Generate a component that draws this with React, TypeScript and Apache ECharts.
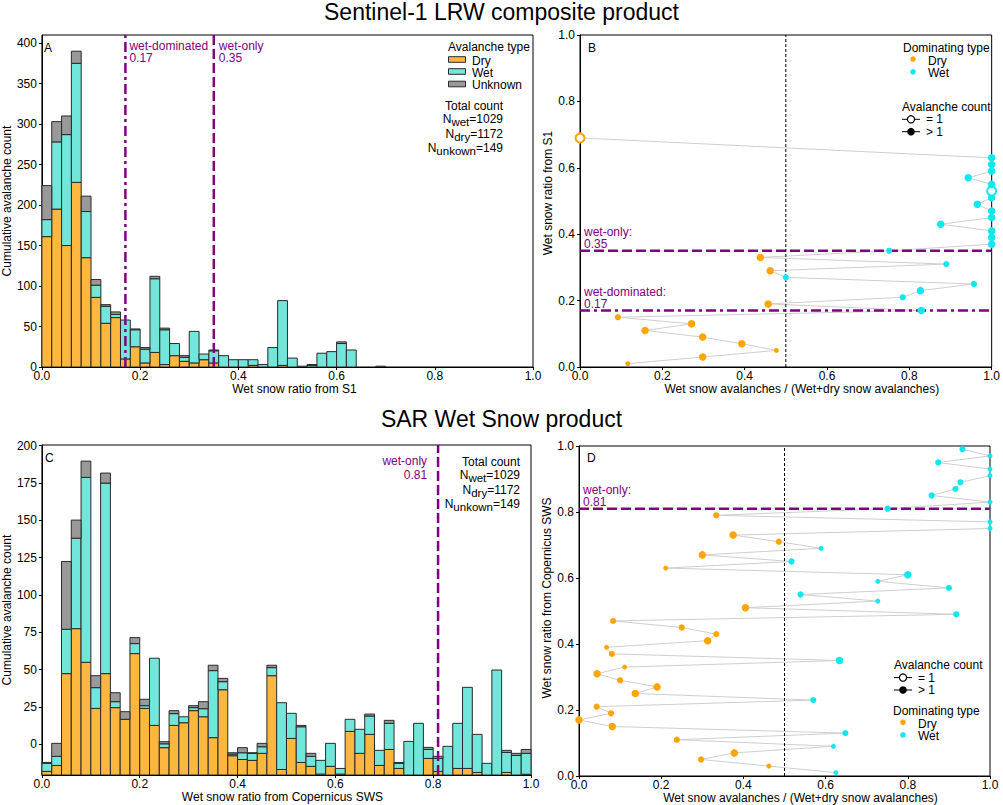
import React, { useEffect, useRef } from 'react';
import * as echarts from 'echarts';

const FONT = '"Liberation Sans", Arial, sans-serif';
const BIN_WIDTH = 0.02;

// ---------- Panel A: Sentinel-1 LRW histogram (counts per 0.02 bin) ----------
const s1Dry = [161, 195, 150, 228, 135, 86, 54, 61, 10, 25, 5, 18, 3, 14, 7, 5, 9, 5, 0, 0, 0, 2, 0, 0, 2, 0, 0, 0, 0, 0, 0, 0, 0, 0, 1, 0, 0, 0, 0, 0, 0, 0, 0, 0, 0, 0, 0, 0, 0, 0];
const s1Wet = [21, 83, 137, 147, 57, 15, 21, 4, 48, 21, 17, 91, 43, 15, 5, 39, 7, 15, 14, 9, 9, 7, 3, 24, 80, 11, 1, 2, 17, 19, 29, 21, 0, 0, 0, 0, 0, 0, 0, 0, 0, 0, 0, 0, 0, 0, 0, 0, 0, 0];
const s1Unknown = [42, 25, 23, 15, 19, 7, 2, 3, 0, 1, 2, 3, 2, 0, 2, 0, 0, 1, 0, 0, 0, 0, 0, 0, 0, 0, 0, 1, 0, 0, 2, 0, 0, 0, 0, 0, 0, 0, 0, 0, 0, 0, 0, 0, 0, 0, 0, 0, 0, 0];
const S1_Y_RANGE = [0, 410];
const S1_Y_TICKS = [0, 50, 100, 150, 200, 250, 300, 350, 400];

// ---------- Panel C: SAR Wet Snow histogram (bars start at the axis bottom) ----------
const SAR_BASE = -20.5;
const sarDry = [2.4, 6.4, 67.9, 98.0, 75.5, 44.6, 67.9, 45.1, 37.3, 81.3, 44.6, 33.2, 18.3, 33.2, 35.0, 43.1, 39.0, 25.0, 57.1, 12.9, 10.4, 9.8, 14.5, 66.5, 3.7, 24.5, 8.4, 5.8, 0.6, 5.8, 0.6, 29.2, 14.5, 27.2, 6.4, 17.1, 4.4, 0, 0, 11.1, 2.4, 0, 4.4, 4.4, 1.7, 0, 0, 1.7, 0, 0.5];
const sarWet = [5.4, 6.1, 29.7, 60.6, 123.8, 13.9, 127.6, 4.0, 0, 6.7, 1.8, 45.0, 2.6, 7.9, 4.0, 2.0, 5.4, 44.9, 5.4, 1.1, 4.5, 4.7, 4.4, 5.4, 44.7, 16.8, 23.9, 6.7, 9.2, 15.4, 3.8, 8.1, 16.1, 12.3, 10.1, 17.5, 3.4, 22.5, 34.6, 6.0, 8.7, 19.2, 30.2, 54.3, 25.5, 7.8, 70.3, 13.4, 13.1, 14.0];
const sarUnknown = [0.6, 8.7, 45.4, 12.1, 10.9, 8.0, 6.7, 6.0, 5.1, 4.0, 4.3, 0, 1.4, 2.0, 0, 1.3, 4.7, 3.6, 2.2, 0.9, 3.4, 0.4, 2.3, 1.6, 0, 0, 0.9, 2.0, 0, 0, 0, 0, 0, 1.3, 0, 2.0, 0.6, 0, 0, 1.4, 1.4, 0, 0, 0, 0, 0, 0, 1.4, 1.4, 2.6];
const SAR_Y_RANGE = [SAR_BASE, 200.5];
const SAR_Y_TICKS = [0, 25, 50, 75, 100, 125, 150, 175, 200];

// ---------- Panel B: dominating type per S1 ratio bin ----------
const s1RatioBins = [0.01, 0.03, 0.05, 0.07, 0.09, 0.11, 0.13, 0.15, 0.17, 0.19, 0.21, 0.23, 0.25, 0.27, 0.29, 0.31, 0.33, 0.35, 0.37, 0.39, 0.41, 0.43, 0.45, 0.47, 0.49, 0.51, 0.53, 0.55, 0.57, 0.59, 0.61, 0.63, 0.69];
const s1WetShare = [0.116, 0.298, 0.477, 0.393, 0.298, 0.158, 0.271, 0.092, 0.829, 0.457, 0.784, 0.827, 0.957, 0.5, 0.462, 0.89, 0.438, 0.751, 1, 1, 1, 0.876, 1, 1, 0.965, 1, 1, 1, 0.943, 1, 1, 1, 0];
const s1MarkerClass = [1, 3, 1, 3, 3, 3, 3, 2, 3, 3, 2, 3, 2, 2, 3, 2, 3, 2, 3, 3, 3, 3, 3, 3, 3, 3, 3, 3, 3, 3, 3, 3, 3];
const s1SingleAvalancheBins = [0.53, 0.69];

// ---------- Panel D: dominating type per SAR ratio bin ----------
const sarRatioBins = [0.01, 0.03, 0.05, 0.07, 0.09, 0.11, 0.13, 0.15, 0.17, 0.19, 0.21, 0.23, 0.25, 0.27, 0.29, 0.31, 0.33, 0.35, 0.37, 0.39, 0.41, 0.43, 0.45, 0.47, 0.49, 0.51, 0.53, 0.55, 0.57, 0.59, 0.61, 0.63, 0.65, 0.67, 0.69, 0.71, 0.73, 0.75, 0.77, 0.79, 0.81, 0.83, 0.85, 0.87, 0.89, 0.91, 0.93, 0.95, 0.97, 0.99];
const sarWetShare = [0.625, 0.462, 0.297, 0.378, 0.619, 0.238, 0.648, 0.081, 0, 0.078, 0.043, 0.570, 0.137, 0.190, 0.100, 0.044, 0.111, 0.634, 0.080, 0.067, 0.313, 0.334, 0.25, 0.083, 0.918, 0.405, 0.727, 0.539, 0.900, 0.727, 0.8, 0.211, 0.517, 0.300, 0.589, 0.486, 0.375, 1, 1, 0.334, 0.751, 1, 0.858, 0.916, 0.928, 1, 1, 0.874, 1, 0.933];
const sarMarkerClass = [1, 1, 2, 3, 1, 2, 2, 3, 3, 2, 2, 2, 3, 3, 2, 3, 1, 3, 2, 1, 3, 2, 2, 2, 2, 3, 1, 2, 2, 1, 3, 1, 2, 3, 1, 2, 3, 1, 1, 2, 2, 1, 2, 2, 2, 1, 1, 2, 1, 2];
const sarSingleAvalancheBins: number[] = [];

// ---------- thresholds & totals ----------
const S1_WET_DOMINATED = 0.17;
const S1_WET_ONLY = 0.35;
const SAR_WET_ONLY = 0.81;
const TOTAL_WET = 1029;
const TOTAL_DRY = 1172;
const TOTAL_UNKNOWN = 149;
const X_TICKS_STEP = 0.2;

// ---------- styles ----------
const BAR_DRY = '#FDB73E';
const BAR_WET = '#72E6DA';
const BAR_UNK = '#999999';
const BAR_EDGE = '#2a2a2a';
const PT_DRY = '#FFA500';
const PT_WET = '#14E6F0';
const PURPLE = '#800080';
const MARKER_SIZE: Record<number, number> = { 1: 5, 2: 6.2, 3: 7.5 };
const DASH = [10, 4];
const DASH_DOT = [10, 4, 3, 4];

const GRIDS = [
  { left: 37, top: 35, width: 496, height: 332 },
  { left: 580, top: 35, width: 413, height: 332 },
  { left: 37, top: 445, width: 494, height: 330 },
  { left: 579, top: 446, width: 411, height: 330 },
];

function stackBins(types: number[][], base: number) {
  const out: number[][][] = types.map(() => []);
  for (let i = 0; i < types[0].length; i++) {
    let bottom = base;
    types.forEach((arr, t) => {
      const top = bottom + arr[i];
      if (arr[i] > 0) out[t].push([i * BIN_WIDTH, (i + 1) * BIN_WIDTH, bottom, top]);
      bottom = top;
    });
  }
  return out;
}

function histSeries(name: string, color: string, data: number[][], idx: number) {
  return {
    type: 'custom',
    name,
    xAxisIndex: idx,
    yAxisIndex: idx,
    data,
    encode: { x: [0, 1], y: [2, 3] },
    clip: true,
    renderItem: (_p: any, api: any) => {
      const a = api.coord([api.value(0), api.value(3)]);
      const b = api.coord([api.value(1), api.value(2)]);
      return {
        type: 'rect',
        shape: { x: a[0], y: a[1], width: b[0] - a[0], height: b[1] - a[1] },
        style: { fill: color, stroke: BAR_EDGE, lineWidth: 1 },
      };
    },
  };
}

function refLine(idx: number, pts: number[][], type: any, color = PURPLE, width = 2.5) {
  return {
    type: 'line',
    xAxisIndex: idx,
    yAxisIndex: idx,
    data: pts,
    showSymbol: false,
    symbol: 'none',
    silent: true,
    z: 5,
    lineStyle: { color, width, type },
  };
}

function pointSeries(idx: number, bins: number[], shares: number[], classes: number[], singles: number[], wantWet: boolean) {
  const color = wantWet ? PT_WET : PT_DRY;
  const data: any[] = [];
  bins.forEach((y, i) => {
    const wet = shares[i] >= 0.5;
    if (wet !== wantWet) return;
    const single = singles.includes(y);
    data.push({
      value: [shares[i], y],
      symbol: single ? 'emptyCircle' : 'circle',
      symbolSize: single ? 9 : MARKER_SIZE[classes[i]],
      itemStyle: single ? { borderWidth: 2, borderColor: color, color } : { color },
    });
  });
  return {
    type: 'scatter',
    name: wantWet ? 'Wet' : 'Dry',
    xAxisIndex: idx,
    yAxisIndex: idx,
    data,
    z: 10,
    itemStyle: { color, opacity: 1 },
  };
}

function connector(idx: number, bins: number[], shares: number[]) {
  return {
    type: 'line',
    xAxisIndex: idx,
    yAxisIndex: idx,
    data: bins.map((y, i) => [shares[i], y]),
    showSymbol: false,
    symbol: 'none',
    silent: true,
    z: 3,
    lineStyle: { color: '#cfcfcf', width: 1 },
  };
}

const axisBase = {
  axisLine: { show: true, onZero: false, lineStyle: { color: '#000', width: 1 } },
  splitLine: { show: false },
  nameTextStyle: { color: '#000', fontSize: 12, fontFamily: FONT },
};

function xAxis(idx: number, name: string, pad: number[]) {
  return {
    ...axisBase,
    type: 'value',
    gridIndex: idx,
    min: 0,
    max: 1,
    interval: X_TICKS_STEP,
    name,
    nameLocation: 'middle',
    nameGap: 15,
    nameTextStyle: { ...axisBase.nameTextStyle, padding: pad },
    axisTick: { show: true, inside: false, length: 3, lineStyle: { color: '#000' } },
    axisLabel: { color: '#000', fontSize: 12, fontFamily: FONT, margin: 3, formatter: (v: number) => v.toFixed(1) },
  };
}

function yAxisRatio(idx: number, name: string, pad: number[], gap: number) {
  return {
    ...axisBase,
    type: 'value',
    gridIndex: idx,
    min: 0,
    max: 1,
    interval: X_TICKS_STEP,
    name,
    nameLocation: 'middle',
    nameGap: gap,
    nameTextStyle: { ...axisBase.nameTextStyle, padding: pad },
    axisTick: { show: true, inside: false, length: 3, lineStyle: { color: '#000' } },
    axisLabel: { color: '#000', fontSize: 12, fontFamily: FONT, margin: 5, formatter: (v: number) => v.toFixed(1) },
  };
}

function yAxisCount(idx: number, range: number[], ticks: number[]) {
  return {
    ...axisBase,
    type: 'value',
    gridIndex: idx,
    min: range[0],
    max: range[1],
    name: 'Cumulative avalanche count',
    nameLocation: 'middle',
    nameGap: 24,
    axisTick: { show: true, inside: false, length: 3, lineStyle: { color: '#000' }, customValues: ticks },
    axisLabel: { color: '#000', fontSize: 12, fontFamily: FONT, margin: 5, customValues: ticks, formatter: (v: number) => String(v) },
  };
}

function buildOption() {
  const [aDry, aWet, aUnk] = stackBins([s1Dry, s1Wet, s1Unknown], 0);
  const [cDry, cWet, cUnk] = stackBins([sarDry, sarWet, sarUnknown], SAR_BASE);
  const XN = 'Wet snow avalanches / (Wet+dry snow avalanches)';
  return {
    animation: false,
    backgroundColor: '#ffffff',
    textStyle: { fontFamily: FONT },
    title: [
      { text: 'Sentinel-1 LRW composite product', left: 'center', top: 0, padding: 0, textStyle: { fontSize: 23, fontWeight: 'normal', color: '#000', fontFamily: FONT } },
      { text: 'SAR Wet Snow product', left: 'center', top: 407, padding: 0, textStyle: { fontSize: 23, fontWeight: 'normal', color: '#000', fontFamily: FONT } },
    ],
    grid: GRIDS.map((g) => ({ ...g, show: true, borderColor: '#000', borderWidth: 1, backgroundColor: 'transparent', containLabel: false })),
    xAxis: [
      xAxis(0, 'Wet snow ratio from S1', [0, 0, 0, 14]),
      xAxis(1, XN, [0, 0, 0, 32]),
      xAxis(2, 'Wet snow ratio from Copernicus SWS', [0, 8, 0, 0]),
      xAxis(3, XN, [0, 0, 0, 32]),
    ],
    yAxis: [
      yAxisCount(0, S1_Y_RANGE, S1_Y_TICKS),
      yAxisRatio(1, 'Wet snow ratio from S1', [0, 0, 0, 16], 15),
      yAxisCount(2, SAR_Y_RANGE, SAR_Y_TICKS),
      yAxisRatio(3, 'Wet snow ratio from Copernicus SWS', [0, 0, 0, 26], 18),
    ],
    series: [
      histSeries('Dry', BAR_DRY, aDry, 0),
      histSeries('Wet', BAR_WET, aWet, 0),
      histSeries('Unknown', BAR_UNK, aUnk, 0),
      refLine(0, [[S1_WET_DOMINATED, S1_Y_RANGE[0]], [S1_WET_DOMINATED, S1_Y_RANGE[1]]], DASH_DOT),
      refLine(0, [[S1_WET_ONLY, S1_Y_RANGE[0]], [S1_WET_ONLY, S1_Y_RANGE[1]]], DASH),

      connector(1, s1RatioBins, s1WetShare),
      refLine(1, [[0, S1_WET_ONLY], [1, S1_WET_ONLY]], DASH),
      refLine(1, [[0, S1_WET_DOMINATED], [1, S1_WET_DOMINATED]], DASH_DOT),
      refLine(1, [[0.5, 0], [0.5, 1]], [3, 2], '#000', 1),
      pointSeries(1, s1RatioBins, s1WetShare, s1MarkerClass, s1SingleAvalancheBins, false),
      pointSeries(1, s1RatioBins, s1WetShare, s1MarkerClass, s1SingleAvalancheBins, true),

      histSeries('Dry', BAR_DRY, cDry, 2),
      histSeries('Wet', BAR_WET, cWet, 2),
      histSeries('Unknown', BAR_UNK, cUnk, 2),
      refLine(2, [[SAR_WET_ONLY, SAR_Y_RANGE[0]], [SAR_WET_ONLY, SAR_Y_RANGE[1]]], DASH),

      connector(3, sarRatioBins, sarWetShare),
      refLine(3, [[0, SAR_WET_ONLY], [1, SAR_WET_ONLY]], DASH),
      refLine(3, [[0.5, 0], [0.5, 1]], [3, 2], '#000', 1),
      pointSeries(3, sarRatioBins, sarWetShare, sarMarkerClass, sarSingleAvalancheBins, false),
      pointSeries(3, sarRatioBins, sarWetShare, sarMarkerClass, sarSingleAvalancheBins, true),
    ],
  };
}

function txt(x: number, y: number, text: string, align = 'left', vAlign = 'middle', fill = '#000', extra: any = {}) {
  return {
    type: 'text',
    x,
    y,
    silent: true,
    z: 20,
    style: {
      text,
      fill,
      fontSize: 12,
      fontFamily: FONT,
      textAlign: align,
      textVerticalAlign: vAlign,
      align,
      verticalAlign: vAlign,
      ...extra,
    },
  };
}

const RICH = {
  n: { fontSize: 12, fontFamily: FONT, fill: '#000', verticalAlign: 'top', textVerticalAlign: 'top', lineHeight: 12 },
  s: { fontSize: 11.5, fontFamily: FONT, fill: '#000', verticalAlign: 'top', textVerticalAlign: 'top', lineHeight: 12, padding: [3, 0, 0, 0] },
};

function nLine(x: number, y: number, sub: string, value: number) {
  return txt(x, y, `{n|N}{s|${sub}}{n|=${value}}`, 'right', 'top', '#000', { rich: RICH });
}

function totalsBlock(xRight: number, yTop: number) {
  return [
    txt(xRight, yTop, 'Total count', 'right', 'middle'),
    nLine(xRight, yTop + 7, 'wet', TOTAL_WET),
    nLine(xRight, yTop + 22, 'dry', TOTAL_DRY),
    nLine(xRight, yTop + 36, 'unkown', TOTAL_UNKNOWN),
  ];
}

function countLegend(x: number, y: number) {
  return [
    txt(x, y, 'Avalanche count'),
    { type: 'line', silent: true, z: 20, shape: { x1: x, y1: y + 12.6, x2: x + 18, y2: y + 12.6 }, style: { stroke: '#000', lineWidth: 1 } },
    { type: 'circle', silent: true, z: 21, shape: { cx: x + 9, cy: y + 12.6, r: 3.6 }, style: { fill: '#fff', stroke: '#000', lineWidth: 1.2 } },
    txt(x + 24, y + 12.6, '= 1'),
    { type: 'line', silent: true, z: 20, shape: { x1: x, y1: y + 25, x2: x + 18, y2: y + 25 }, style: { stroke: '#000', lineWidth: 1 } },
    { type: 'circle', silent: true, z: 21, shape: { cx: x + 9, cy: y + 25, r: 3.8 }, style: { fill: '#000' } },
    txt(x + 24, y + 25, '> 1'),
  ];
}

function typeLegend(x: number, y: number) {
  return [
    txt(x, y, 'Dominating type'),
    { type: 'circle', silent: true, z: 21, shape: { cx: x + 10, cy: y + 11.6, r: 2.8 }, style: { fill: PT_DRY } },
    txt(x + 25, y + 13, 'Dry'),
    { type: 'circle', silent: true, z: 21, shape: { cx: x + 10, cy: y + 24.3, r: 2.8 }, style: { fill: PT_WET } },
    txt(x + 25, y + 25.5, 'Wet'),
  ];
}

function buildGraphics(chart: any) {
  const px = (i: number, p: number[]) => chart.convertToPixel({ xAxisIndex: i, yAxisIndex: i }, p) as number[];
  const g: any[] = [];

  // Panel letters
  g.push(txt(44, 48, 'A'), txt(588, 48, 'B'), txt(45, 458, 'C'), txt(587, 458, 'D'));

  // Panel A annotations
  const aTop = px(0, [0, S1_Y_RANGE[1]])[1];
  const aWD = px(0, [S1_WET_DOMINATED, 0]);
  const aWO = px(0, [S1_WET_ONLY, 0]);
  g.push(txt(aWD[0] + 4, aTop + 5, 'wet-dominated\n0.17', 'left', 'top', PURPLE, { lineHeight: 12 }));
  g.push(txt(aWO[0] + 5, aTop + 5, 'wet-only\n0.35', 'left', 'top', PURPLE, { lineHeight: 12 }));

  // Panel A legend
  g.push(txt(448, 47, 'Avalanche type'));
  const sw = [
    [BAR_DRY, 'Dry', 59.5],
    [BAR_WET, 'Wet', 71.5],
    [BAR_UNK, 'Unknown', 84],
  ];
  sw.forEach(([c, label, yc]) => {
    g.push({ type: 'rect', silent: true, z: 20, shape: { x: 448.5, y: (yc as number) - 2.8, width: 17, height: 5.6 }, style: { fill: c, stroke: BAR_EDGE, lineWidth: 1 } });
    g.push(txt(472, (yc as number) + 1, label as string));
  });
  g.push(...totalsBlock(503, 106));

  // Panel B annotations
  const bLeft = px(1, [0, 0])[0];
  const bWO = px(1, [0, S1_WET_ONLY])[1];
  const bWD = px(1, [0, S1_WET_DOMINATED])[1];
  g.push(txt(bLeft + 4, bWO - 1, 'wet-only:\n0.35', 'left', 'bottom', PURPLE, { lineHeight: 12 }));
  g.push(txt(bLeft + 4, bWD - 1, 'wet-dominated:\n0.17', 'left', 'bottom', PURPLE, { lineHeight: 12 }));
  g.push(...typeLegend(903, 47.5));
  g.push(...countLegend(902, 106.7));

  // Panel C annotations
  const cTop = px(2, [0, SAR_Y_RANGE[1]])[1];
  const cWO = px(2, [SAR_WET_ONLY, 0]);
  g.push(txt(cWO[0] - 11, cTop + 9, 'wet-only\n0.81', 'right', 'top', PURPLE, { lineHeight: 14 }));
  g.push(...totalsBlock(520, 461.7));

  // Panel D annotations
  const dLeft = px(3, [0, 0])[0];
  const dWO = px(3, [0, SAR_WET_ONLY])[1];
  g.push(txt(dLeft + 4, dWO - 1, 'wet-only:\n0.81', 'left', 'bottom', PURPLE, { lineHeight: 12 }));
  g.push(...countLegend(894, 665));
  g.push(...typeLegend(893, 710.7));

  return g;
}

export default function App() {
  const ref = useRef<HTMLDivElement>(null);
  useEffect(() => {
    if (!ref.current) return;
    const chart = echarts.init(ref.current, null, { renderer: 'svg' });
    chart.setOption(buildOption() as any);
    chart.setOption({ graphic: buildGraphics(chart) } as any);
    return () => chart.dispose();
  }, []);
  return <div ref={ref} style={{ position: 'absolute', left: 0, top: 0, width: 1003, height: 805 }} />;
}
